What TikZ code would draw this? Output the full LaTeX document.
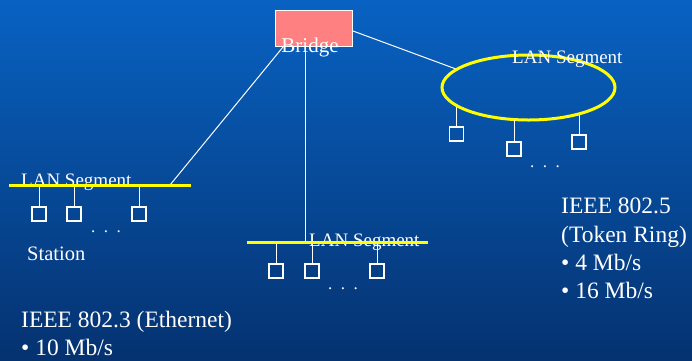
\documentclass[tikz,border=0pt]{standalone}
\usepackage{fontspec}
\setmainfont{Liberation Serif}
\usetikzlibrary{shapes.geometric}
\begin{document}
\definecolor{bgtop}{RGB}{8,98,194}
\definecolor{bgbot}{RGB}{5,50,112}
\definecolor{bridgefill}{RGB}{255,128,128}
\definecolor{segyellow}{RGB}{255,255,0}
\tikzset{
  segline/.style={draw=segyellow, line width=3pt},
  link/.style={draw=white, line width=1pt},
  stationbox/.style={draw=white, line width=1.3pt, minimum width=14pt, minimum height=14pt, inner sep=0pt},
  seglabel/.style={text=white, font=\fontsize{19}{19}\selectfont, inner sep=0pt, anchor=base west},
  infotext/.style={text=white, font=\fontsize{23.5}{28}\selectfont, inner sep=0pt, anchor=base west},
  dotlabel/.style={text=white, font=\fontsize{17}{17}\selectfont, inner sep=0pt, anchor=base},
}
\begin{tikzpicture}[x=1pt,y=-1pt]
  % background
  \shade[top color=bgtop, bottom color=bgbot] (0,0) rectangle (692,360);
  \useasboundingbox (0,0) rectangle (692,360);

  % bridge
  \node[draw=white, fill=bridgefill, line width=1pt, minimum width=77pt, minimum height=36pt, inner sep=0pt] (bridge) at (314,28) {};
  \node[text=white, font=\fontsize{21}{21}\selectfont, inner sep=0pt, anchor=base] (bridgelbl) at (310,52) {Bridge};

  % segment end points
  \coordinate (l1) at (9,185);   \coordinate (l2) at (191,185);
  \coordinate (m1) at (247,242); \coordinate (m2) at (428,242);
  \coordinate (bl) at (283,47);  \coordinate (lj) at (170,185);
  \coordinate (bm) at (305,47);  \coordinate (mj) at (305,242);
  \coordinate (br) at (353,31);  \coordinate (rj) at (456,69);

  % connections from the bridge
  \draw[link] (bl) -- (lj);
  \draw[link] (bm) -- (mj);
  \draw[link] (br) -- (rj);

  % left Ethernet segment
  \node[stationbox] (ls1) at (39,214) {};
  \node[stationbox] (ls2) at (74,214) {};
  \node[stationbox] (ls3) at (139,214) {};
  \foreach \s in {ls1,ls2,ls3} \draw[link] (\s.north) -- (\s.north |- l1);
  \node[seglabel] (lseg) at (21,186) {LAN Segment};
  \draw[segline] (l1) -- (l2);
  \node[dotlabel] (ldots) at (106,232) {.\ \ .\ \ .};
  \node[text=white, font=\fontsize{20.5}{20.5}\selectfont, inner sep=0pt, anchor=base west] (station) at (27,260) {Station};

  % middle Ethernet segment
  \node[stationbox] (ms1) at (276,271) {};
  \node[stationbox] (ms2) at (312,271) {};
  \node[stationbox] (ms3) at (377,271) {};
  \foreach \s in {ms1,ms2,ms3} \draw[link] (\s.north) -- (\s.north |- m1);
  \node[seglabel] (mseg) at (309,246) {LAN Segment};
  \draw[segline] (m1) -- (m2);
  \node[dotlabel] (mdots) at (343,289) {.\ \ .\ \ .};

  % token ring
  \node[draw=segyellow, line width=3pt, ellipse, minimum width=173pt, minimum height=65pt, inner sep=0pt] (ring) at (528.5,87.5) {};
  \node[stationbox] (rs1) at (456.5,134) {};
  \node[stationbox] (rs2) at (514,149) {};
  \node[stationbox] (rs3) at (579,142) {};
  \draw[link] (rs1.north) -- (456.5,107);
  \draw[link] (rs2.north) -- (514,120);
  \draw[link] (rs3.north) -- (579,115);
  \node[seglabel] (rseg) at (512,63) {LAN Segment};
  \node[dotlabel] (rdots) at (545,167) {.\ \ .\ \ .};

  % descriptions
  \node[infotext] (tr1) at (561,213) {IEEE 802.5};
  \node[infotext] (tr2) at (561,242) {(Token Ring)};
  \node[infotext] (tr3) at (561,270) {\textbullet\ 4 Mb/s};
  \node[infotext] (tr4) at (561,298) {\textbullet\ 16 Mb/s};
  \node[infotext] (eth1) at (21,327) {IEEE 802.3 (Ethernet)};
  \node[infotext] (eth2) at (21,355) {\textbullet\ 10 Mb/s};
\end{tikzpicture}
\end{document}
